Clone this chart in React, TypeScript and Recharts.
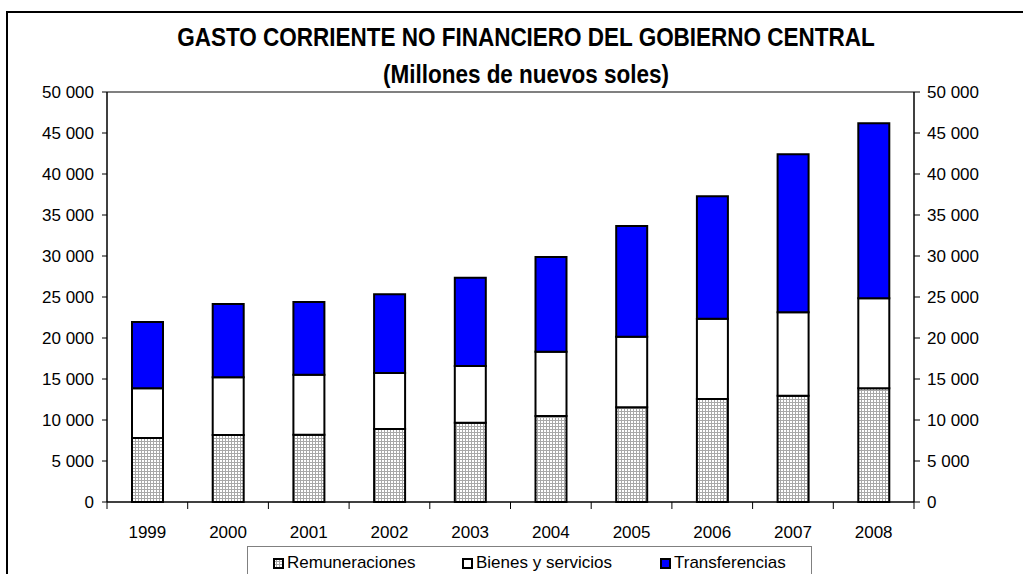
import React from 'react';
import { ComposedChart, Bar, Line, XAxis, YAxis, ReferenceLine } from 'recharts';

const years = ['1999', '2000', '2001', '2002', '2003', '2004', '2005', '2006', '2007', '2008'];
const remuneraciones = [7800, 8170, 8200, 8900, 9670, 10490, 11550, 12560, 12970, 13870];
const bienesServicios = [6070, 7030, 7330, 6820, 6920, 7840, 8610, 9800, 10160, 10970];
const transferencias = [8080, 8950, 8860, 9610, 10770, 11550, 13500, 14940, 19270, 21360];
const yTicks = [0, 5000, 10000, 15000, 20000, 25000, 30000, 35000, 40000, 45000, 50000];

const data = years.map((y, i) => ({
  year: y,
  rem: remuneraciones[i],
  bie: bienesServicios[i],
  tra: transferencias[i],
}));

const CHART_W = 1023;
const CHART_H = 574;
const MARGIN = { top: 92, right: 9, left: 7, bottom: 42 };
const Y_W = 100;
const PLOT_W = CHART_W - MARGIN.left - MARGIN.right - 2 * Y_W;
const BAND = PLOT_W / years.length;

const FONT = '"Liberation Sans", Arial, sans-serif';
const FS = 17;
const fmt = (v: number) => (v === 0 ? '0' : `${Math.floor(v / 1000)} ${String(v % 1000).padStart(3, '0')}`);

const series = [
  { key: 'rem', name: 'Remuneraciones', fill: 'url(#remPat)' },
  { key: 'bie', name: 'Bienes y servicios', fill: '#FFFFFF' },
  { key: 'tra', name: 'Transferencias', fill: '#0000FF' },
];

const XTick = (props: any) => {
  const { x, y, payload, index } = props;
  const last = index === years.length - 1;
  return (
    <g>
      <line x1={x - BAND / 2} x2={x - BAND / 2} y1={y} y2={y + 7} stroke="#000" strokeWidth={1} />
      {last && <line x1={x + BAND / 2} x2={x + BAND / 2} y1={y} y2={y + 7} stroke="#000" strokeWidth={1} />}
      <text x={x} y={y + 24} dy="0.71em" textAnchor="middle" fontSize={FS} fontFamily={FONT} fill="#000">
        {payload.value}
      </text>
    </g>
  );
};

export default function App() {
  return (
    <div style={{ position: 'absolute', left: 0, top: 0, width: CHART_W, height: CHART_H, background: '#fff', overflow: 'hidden', fontFamily: FONT }}>
      <svg width={0} height={0} style={{ position: 'absolute' }}>
        <defs>
          <pattern id="remPat" width={3} height={3} patternUnits="userSpaceOnUse">
            <rect x={0} y={0} width={3} height={3} fill="#ffffff" />
            <rect x={0} y={0} width={3} height={1} fill="#a8a8a8" />
            <rect x={0} y={0} width={1} height={3} fill="#a8a8a8" />
          </pattern>
        </defs>
      </svg>
      <div style={{ position: 'absolute', left: 6, top: 11, width: 1100, height: 700, borderLeft: '2px solid #000', borderTop: '2px solid #000' }} />
      <div style={{ position: 'absolute', left: 0, top: 0 }}>
        <ComposedChart width={CHART_W} height={CHART_H} data={data} margin={MARGIN} barSize={31}>
          <XAxis
            xAxisId="cat"
            dataKey="year"
            axisLine={{ stroke: '#000', strokeWidth: 1.5 }}
            tickLine={false}
            tickSize={0}
            tickMargin={0}
            height={30}
            interval={0}
            tick={<XTick />}
          />
          <YAxis
            yAxisId="left"
            domain={[0, 50000]}
            ticks={yTicks}
            interval={0}
            width={Y_W}
            tickSize={5}
            tickMargin={8}
            tickFormatter={fmt}
            axisLine={{ stroke: '#000', strokeWidth: 1.5 }}
            tickLine={{ stroke: '#000' }}
            tick={{ fill: '#000', fontSize: FS, fontFamily: FONT }}
          />
          <YAxis
            yAxisId="right"
            orientation="right"
            domain={[0, 50000]}
            ticks={yTicks}
            interval={0}
            width={Y_W}
            tickSize={6}
            tickMargin={7}
            tickFormatter={fmt}
            axisLine={{ stroke: '#000', strokeWidth: 1.5 }}
            tickLine={{ stroke: '#000' }}
            tick={{ fill: '#000', fontSize: FS, fontFamily: FONT }}
          />
          <ReferenceLine yAxisId="left" xAxisId="cat" y={50000} stroke="#808080" strokeWidth={2} />
          {series.map((s) => (
            <Bar
              key={s.key}
              dataKey={s.key}
              name={s.name}
              stackId="a"
              xAxisId="cat"
              yAxisId="left"
              fill={s.fill}
              stroke="#000"
              strokeWidth={2}
              isAnimationActive={false}
            />
          ))}
          <Line
            dataKey="rem"
            xAxisId="cat"
            yAxisId="right"
            stroke="none"
            dot={false}
            activeDot={false}
            legendType="none"
            isAnimationActive={false}
          />
        </ComposedChart>
      </div>
      <svg width={1023} height={100} style={{ position: 'absolute', left: 0, top: 0, pointerEvents: 'none' }}>
        <text transform="translate(526,46) scale(0.9,1)" x={0} y={0} textAnchor="middle" fontFamily={FONT} fontWeight="bold" fontSize={25} fill="#000">
          GASTO CORRIENTE NO FINANCIERO DEL GOBIERNO CENTRAL
        </text>
        <text transform="translate(526,83) scale(0.9,1)" x={0} y={0} textAnchor="middle" fontFamily={FONT} fontWeight="bold" fontSize={25} fill="#000">
          (Millones de nuevos soles)
        </text>
      </svg>
      <div
        style={{
          position: 'absolute',
          left: 247,
          top: 546,
          width: 565,
          height: 60,
          border: '1px solid #808080',
          boxSizing: 'border-box',
          background: '#fff',
        }}
      >
        {series.map((s, i) => {
          const lefts = [25, 214, 412];
          return (
            <div key={s.key} style={{ position: 'absolute', left: lefts[i], top: 6, display: 'flex', alignItems: 'center', fontSize: FS, color: '#000', whiteSpace: 'nowrap', lineHeight: '20px' }}>
              <svg width={11} height={11} style={{ marginRight: 3 }}>
                <rect x={1} y={1} width={9} height={9} fill={s.fill} stroke="#000" strokeWidth={2} />
              </svg>
              <span>{s.name}</span>
            </div>
          );
        })}
      </div>
    </div>
  );
}
